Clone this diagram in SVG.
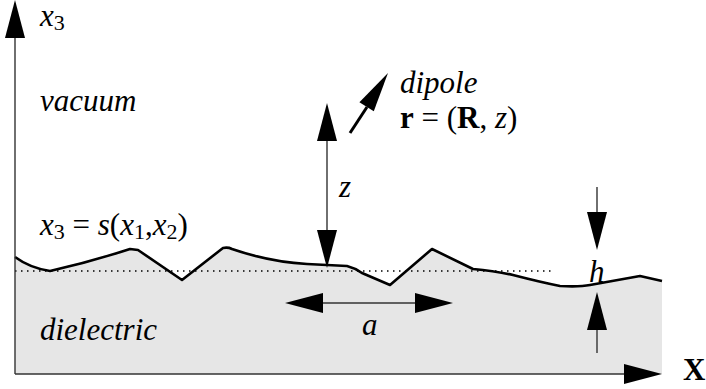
<svg xmlns="http://www.w3.org/2000/svg" width="706" height="389" viewBox="0 0 706 389">
<style>
.thin{stroke:#333;stroke-width:1.4;fill:none}
.ah{fill:#000}
.lbl{font-family:"Liberation Serif","Times New Roman",serif;font-size:31px;fill:#000}
.it{font-style:italic}
.b{font-weight:bold}
.sub{font-size:22px}
</style>
<defs>
<path id="ah" d="M0,0 L-38,-10 L-38,10 Z"/>
<path id="ahd" d="M0,0 L-40,-8.5 L-40,8.5 Z"/>
</defs>
<g id="dielectric-region">
<path d="M15,257 Q30,268 50,271 Q90,262 130,249 L138,250 L182,280 L223,248 Q228,247 232,249 Q270,262 307,264 L347,266 Q355,268 362,273 L390,285 L432,249 L473,269 Q495,271 513,275 Q540,282 560,286 Q580,287 590,285 L640,276 L662,281 L662,374 L15,374 Z" fill="#e6e6e6"/>
<line x1="15" y1="271" x2="553" y2="271" stroke="#000" stroke-width="1.3" stroke-dasharray="1.5 4.5"/>
<path d="M15,257 Q30,268 50,271 Q90,262 130,249 L138,250 L182,280 L223,248 Q228,247 232,249 Q270,262 307,264 L347,266 Q355,268 362,273 L390,285 L432,249 L473,269 Q495,271 513,275 Q540,282 560,286 Q580,287 590,285 L640,276 L662,281" fill="none" stroke="#000" stroke-width="2.6" stroke-linejoin="round"/>
</g>
<g id="connectors">
<g id="axis-x3">
<line class="thin" x1="15" y1="374" x2="15" y2="34"/>
<use href="#ah" class="ah" transform="translate(15,0) rotate(-90)"/>
</g>
<g id="axis-X">
<line class="thin" x1="15" y1="374" x2="626" y2="374"/>
<use href="#ah" class="ah" transform="translate(662,374)"/>
</g>
<g id="z-arrow">
<line class="thin" x1="327" y1="141" x2="327" y2="232"/>
<use href="#ah" class="ah" transform="translate(327,103) rotate(-90)"/>
<use href="#ah" class="ah" transform="translate(327,268) rotate(90)"/>
</g>
<g id="dipole-arrow">
<line x1="350" y1="133" x2="367" y2="107" stroke="#000" stroke-width="3"/>
<use href="#ahd" class="ah" transform="translate(388,73) rotate(-57.65)"/>
</g>
<g id="a-arrow">
<line class="thin" x1="322" y1="303" x2="416" y2="303"/>
<use href="#ah" class="ah" transform="translate(285,303) rotate(180)"/>
<use href="#ah" class="ah" transform="translate(453,303)"/>
</g>
<g id="h-arrows">
<line class="thin" x1="597" y1="187" x2="597" y2="214"/>
<use href="#ah" class="ah" transform="translate(597,250) rotate(90)"/>
<line class="thin" x1="597" y1="328" x2="597" y2="353"/>
<use href="#ah" class="ah" transform="translate(597,292) rotate(-90)"/>
</g>
</g>
<g id="labels">
<text id="x3-label" class="lbl" x="40" y="26"><tspan class="it">x</tspan><tspan class="sub" dy="4">3</tspan></text>
<text id="vacuum" class="lbl it" x="40" y="111">vacuum</text>
<text id="surface" class="lbl" x="40" y="235"><tspan class="it">x</tspan><tspan class="sub" dy="4">3</tspan><tspan dy="-4"> = </tspan><tspan class="it">s</tspan>(<tspan class="it">x</tspan><tspan class="sub" dy="4">1</tspan><tspan dy="-4">,</tspan><tspan class="it">x</tspan><tspan class="sub" dy="4">2</tspan><tspan dy="-4">)</tspan></text>
<text id="dielectric" class="lbl it" x="40" y="340">dielectric</text>
<text id="dipole" class="lbl it" x="400" y="93">dipole</text>
<text id="r-label" class="lbl" x="400" y="128"><tspan class="b">r</tspan> = (<tspan class="b">R</tspan>, <tspan class="it">z</tspan>)</text>
<text id="z-label" class="lbl it" x="339" y="197">z</text>
<text id="a-label" class="lbl it" x="362" y="335">a</text>
<text id="h-label" class="lbl it" x="589" y="282">h</text>
<text id="X-label" class="lbl b" x="683" y="380">X</text>
</g>
</svg>
